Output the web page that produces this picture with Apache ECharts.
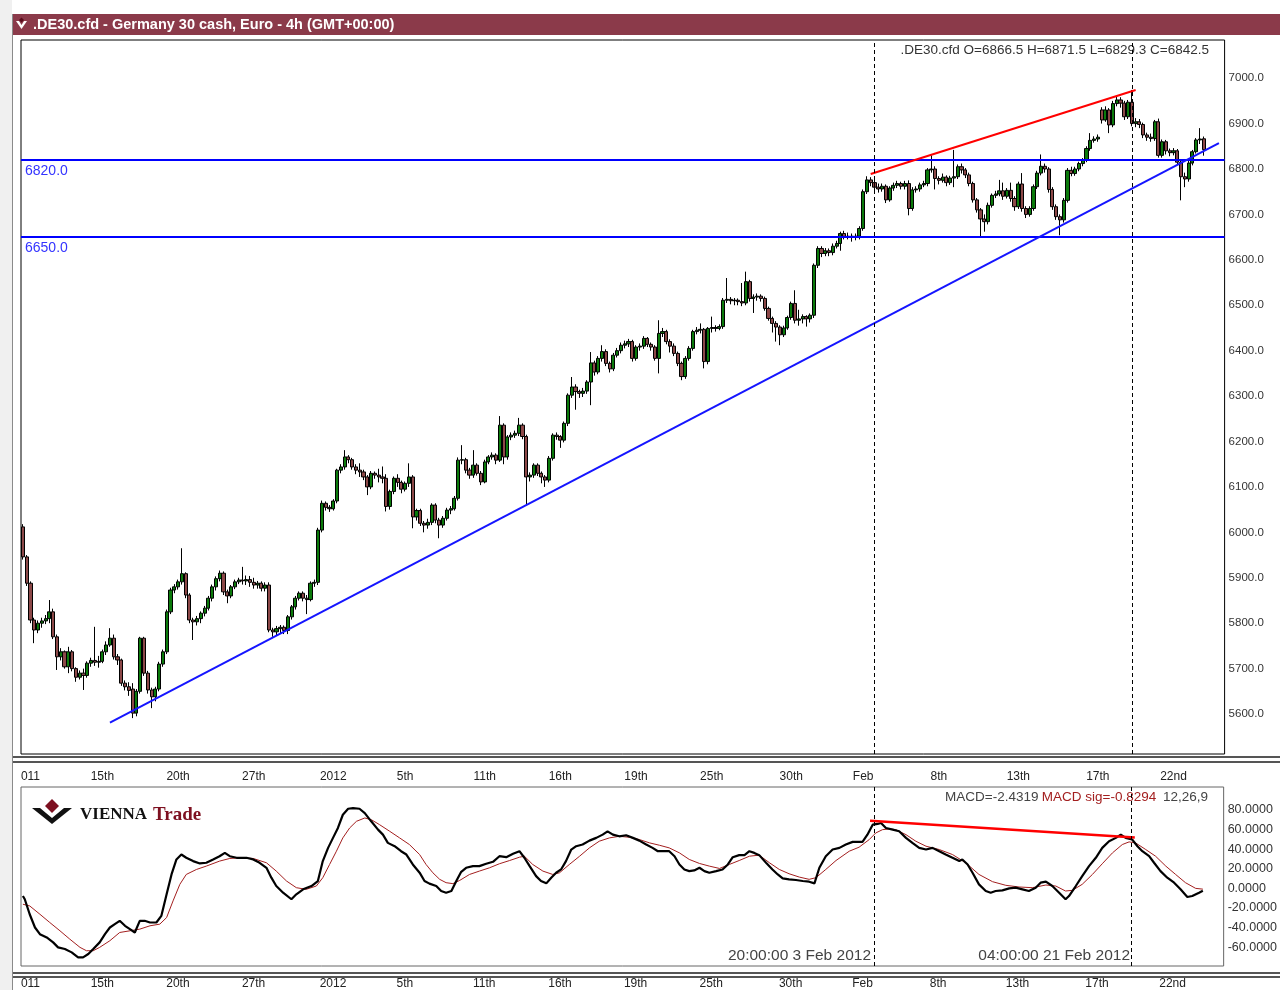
<!DOCTYPE html>
<html>
<head>
<meta charset="utf-8">
<title>.DE30.cfd - Germany 30 cash, Euro - 4h</title>
<script src="https://cdn.jsdelivr.net/npm/echarts@6/dist/echarts.min.js"></script>
<style>
  html, body { margin: 0; padding: 0; background: #fff; }
  #chart { width: 1280px; height: 990px; }
</style>
</head>
<body>
<div id="chart"></div>
<script>
// 4h candles: [open, close, low, high]
const bars = [
  [6012,5946,5940,6018],[5946,5888,5882,5950],[5888,5807,5800,5892],[5807,5785,5756,5812],[5785,5800,5778,5806],[5800,5805,5790,5812],[5805,5810,5798,5818],[5810,5825,5800,5851],[5825,5770,5765,5832],[5770,5726,5697,5775],
  [5726,5737,5718,5745],[5737,5704,5700,5740],[5704,5737,5690,5748],[5737,5700,5694,5741],[5700,5681,5671,5703],[5681,5690,5676,5696],[5690,5685,5653,5700],[5685,5712,5680,5716],[5712,5718,5704,5724],[5718,5714,5706,5792],
  [5714,5716,5702,5728],[5716,5737,5712,5742],[5737,5752,5730,5760],[5752,5767,5748,5789],[5767,5726,5720,5775],[5726,5719,5708,5732],[5719,5668,5662,5722],[5668,5660,5652,5674],[5660,5652,5640,5670],[5655,5602,5591,5668],
  [5602,5650,5595,5655],[5650,5767,5645,5770],[5767,5690,5684,5770],[5690,5653,5645,5695],[5653,5638,5613,5658],[5638,5655,5628,5660],[5655,5710,5650,5715],[5710,5737,5704,5742],[5737,5825,5732,5830],[5825,5873,5820,5878],
  [5873,5880,5866,5886],[5880,5891,5874,5896],[5891,5909,5885,5965],[5909,5862,5855,5912],[5862,5807,5800,5866],[5807,5803,5763,5812],[5803,5810,5795,5816],[5810,5822,5800,5826],[5822,5833,5815,5838],[5833,5855,5828,5860],
  [5855,5880,5848,5885],[5880,5898,5872,5903],[5898,5910,5892,5916],[5910,5869,5862,5914],[5869,5860,5844,5874],[5860,5880,5855,5884],[5880,5891,5875,5896],[5891,5895,5886,5900],[5895,5893,5885,5924],[5893,5896,5884,5905],
  [5896,5890,5880,5904],[5890,5884,5876,5900],[5884,5888,5876,5893],[5888,5877,5870,5892],[5877,5884,5870,5890],[5884,5785,5780,5890],[5785,5781,5770,5790],[5781,5788,5772,5794],[5788,5791,5778,5796],[5791,5784,5776,5795],
  [5784,5814,5776,5818],[5814,5836,5808,5840],[5836,5855,5830,5860],[5855,5866,5850,5870],[5866,5855,5848,5870],[5855,5852,5820,5862],[5852,5888,5848,5892],[5888,5890,5880,5896],[5890,6005,5884,6010],[6005,6064,6000,6070],
  [6064,6055,6048,6068],[6055,6052,6045,6060],[6052,6069,6048,6073],[6069,6137,6064,6140],[6137,6144,6130,6150],[6144,6166,6138,6181],[6166,6160,6152,6170],[6160,6144,6138,6164],[6144,6137,6128,6150],[6137,6133,6122,6152],
  [6133,6122,6115,6138],[6122,6100,6082,6126],[6100,6130,6095,6135],[6130,6126,6118,6134],[6126,6122,6110,6140],[6122,6119,6108,6145],[6119,6057,6046,6128],[6057,6090,6050,6094],[6090,6119,6084,6123],[6119,6110,6100,6128],
  [6110,6095,6086,6114],[6095,6108,6090,6112],[6108,6122,6100,6152],[6122,6034,6009,6126],[6034,6048,6026,6052],[6048,6020,6014,6052],[6020,6016,6000,6025],[6016,6022,6008,6030],[6022,6060,6016,6064],[6060,6027,6020,6064],
  [6027,6016,5987,6032],[6016,6031,6010,6036],[6031,6049,6026,6054],[6049,6052,6040,6058],[6052,6075,6048,6080],[6075,6159,6070,6165],[6159,6160,6150,6192],[6160,6137,6130,6164],[6137,6126,6118,6142],[6126,6148,6120,6181],
  [6148,6130,6125,6152],[6130,6111,6104,6135],[6111,6155,6108,6160],[6155,6166,6150,6170],[6166,6170,6160,6176],[6170,6159,6150,6174],[6159,6236,6155,6256],[6236,6166,6150,6240],[6166,6210,6160,6214],[6210,6214,6203,6220],
  [6214,6218,6208,6224],[6218,6236,6212,6252],[6236,6211,6205,6240],[6211,6122,6060,6215],[6122,6126,6112,6132],[6126,6148,6120,6152],[6148,6130,6124,6152],[6130,6122,6108,6134],[6122,6115,6100,6126],[6115,6163,6110,6168],
  [6163,6214,6158,6218],[6214,6211,6204,6220],[6211,6203,6186,6214],[6203,6240,6198,6244],[6240,6302,6234,6306],[6302,6320,6296,6342],[6320,6310,6270,6326],[6310,6306,6296,6314],[6306,6311,6298,6318],[6311,6331,6305,6335],
  [6331,6373,6280,6397],[6373,6353,6345,6378],[6353,6383,6348,6388],[6383,6398,6376,6412],[6398,6372,6366,6403],[6372,6360,6352,6376],[6360,6390,6355,6395],[6390,6400,6385,6406],[6400,6412,6394,6418],[6412,6415,6405,6422],
  [6415,6420,6408,6426],[6420,6383,6376,6424],[6383,6408,6378,6412],[6408,6410,6400,6416],[6410,6427,6404,6432],[6427,6414,6408,6430],[6414,6408,6400,6418],[6408,6383,6378,6412],[6383,6438,6350,6467],[6438,6442,6430,6450],
  [6442,6420,6414,6446],[6420,6410,6396,6425],[6410,6394,6388,6416],[6394,6372,6366,6398],[6372,6343,6335,6376],[6343,6383,6338,6388],[6383,6405,6378,6410],[6405,6442,6400,6446],[6442,6445,6436,6452],[6445,6447,6438,6460],
  [6447,6376,6361,6450],[6376,6449,6370,6452],[6449,6451,6440,6475],[6451,6449,6442,6456],[6449,6453,6445,6458],[6453,6511,6448,6516],[6511,6513,6505,6560],[6513,6510,6502,6518],[6510,6511,6500,6516],[6511,6508,6500,6515],
  [6508,6505,6498,6549],[6505,6552,6500,6574],[6552,6515,6508,6556],[6515,6518,6483,6524],[6518,6520,6510,6526],[6520,6515,6508,6524],[6515,6493,6488,6519],[6493,6471,6466,6497],[6471,6460,6440,6475],[6460,6452,6420,6465],
  [6452,6435,6412,6456],[6435,6450,6430,6455],[6450,6473,6446,6477],[6473,6504,6468,6508],[6504,6467,6460,6533],[6467,6470,6455,6490],[6470,6475,6460,6480],[6475,6470,6453,6478],[6470,6478,6462,6482],[6478,6588,6472,6592],
  [6588,6625,6582,6630],[6625,6614,6606,6630],[6614,6620,6608,6626],[6620,6616,6608,6625],[6616,6630,6610,6636],[6630,6636,6625,6642],[6636,6658,6620,6662],[6658,6651,6645,6664],[6651,6652,6645,6660],[6652,6650,6640,6658],
  [6650,6652,6643,6658],[6652,6669,6645,6674],[6669,6750,6664,6755],[6750,6776,6745,6784],[6776,6770,6762,6782],[6770,6760,6752,6778],[6760,6756,6748,6768],[6756,6762,6750,6768],[6762,6732,6725,6766],[6732,6758,6728,6762],
  [6758,6764,6752,6770],[6764,6768,6758,6774],[6768,6762,6755,6772],[6762,6768,6755,6774],[6768,6713,6698,6775],[6713,6754,6708,6760],[6754,6756,6748,6762],[6756,6765,6750,6770],[6765,6768,6760,6774],[6768,6798,6762,6802],
  [6798,6800,6792,6830],[6800,6779,6755,6806],[6779,6775,6766,6784],[6775,6782,6770,6790],[6782,6770,6762,6786],[6770,6780,6765,6785],[6780,6783,6760,6842],[6783,6805,6778,6810],[6805,6798,6790,6812],[6798,6787,6780,6802],
  [6787,6768,6762,6792],[6768,6732,6726,6772],[6732,6710,6704,6736],[6710,6690,6651,6714],[6690,6684,6662,6700],[6684,6720,6678,6726],[6720,6742,6715,6746],[6742,6745,6736,6752],[6745,6752,6740,6776],[6752,6740,6732,6770],
  [6740,6753,6735,6758],[6753,6735,6728,6770],[6735,6717,6708,6740],[6717,6767,6712,6772],[6767,6713,6706,6791],[6713,6700,6692,6718],[6700,6713,6695,6718],[6713,6761,6708,6766],[6761,6791,6756,6796],[6791,6806,6786,6832],
  [6806,6800,6792,6812],[6800,6755,6748,6804],[6755,6717,6710,6760],[6717,6695,6688,6722],[6695,6688,6654,6700],[6688,6731,6682,6736],[6731,6797,6726,6802],[6797,6790,6784,6805],[6790,6800,6785,6805],[6800,6812,6795,6816],
  [6812,6820,6806,6824],[6820,6845,6815,6850],[6845,6863,6840,6879],[6863,6866,6858,6872],[6866,6870,6860,6876],[6930,6908,6900,6936],[6908,6930,6904,6938],[6930,6897,6879,6934],[6897,6944,6892,6950],[6944,6952,6938,6960],
  [6952,6945,6935,6958],[6945,6915,6908,6950],[6915,6947,6910,6952],[6947,6900,6894,6974],[6900,6904,6892,6912],[6904,6898,6890,6910],[6898,6875,6868,6902],[6875,6870,6862,6880],[6870,6867,6860,6878],[6867,6904,6862,6908],
  [6904,6830,6825,6911],[6830,6860,6825,6865],[6860,6840,6832,6864],[6840,6836,6828,6845],[6836,6840,6830,6846],[6840,6815,6810,6844],[6815,6783,6731,6820],[6783,6778,6760,6792],[6778,6813,6772,6818],[6813,6838,6808,6842],
  [6838,6864,6834,6868],[6864,6866,6855,6890],[6866.5,6842.5,6829.3,6871.5]
];
const emptySlots = 5;   // blank room right of the last candle

// time axis labels: bar index and text
const tickIdx  = [2, 21, 41, 61, 82, 101, 122, 142, 162, 182, 203, 222, 242, 263, 284, 304];
const tickText = ['011', '15th', '20th', '27th', '2012', '5th', '11th', '16th', '19th', '25th', '30th', 'Feb', '8th', '13th', '17th', '22nd'];

const priceTicks = [5600, 5700, 5800, 5900, 6000, 6100, 6200, 6300, 6400, 6500, 6600, 6700, 6800, 6900, 7000];
const macdTicks = [-60, -40, -20, 0, 20, 40, 60, 80];

// MACD (12,26,9): [bar index, value]
const macdLine = [
  [0,-7.8],[0.5,-11.1],[1.8,-26.4],[3.2,-39.9],[4.5,-46.7],[6.3,-50.1],[8,-55.1],[9.3,-60.2],[11.1,-61.9],[12.9,-65.3],
  [14.6,-70.4],[15.9,-70.4],[17.3,-67],[18.6,-61.9],[20.3,-55.1],[21.7,-46.7],[23,-39.9],[24.3,-36.5],[25.6,-33.1],[27,-38.2],
  [28.3,-41.6],[29.6,-45],[30.9,-33.1],[32.2,-33.1],[33.6,-34.8],[35.3,-34.8],[36.6,-28.1],[38,-6.1],[39.3,14.2],[40.6,29.5],
  [41.9,34.5],[43.2,31.2],[45,27.8],[46.8,25.4],[48.5,26.1],[50.3,29.5],[52,32.8],[53.4,36.2],[54.7,32.8],[56.5,31.2],
  [59.1,31.2],[60.9,29.5],[62.6,26.1],[64.4,21],[65.7,10.9],[67,2.4],[68.8,-4.4],[71,-11.1],[72.3,-6.1],[74.1,-1],
  [76.3,2.4],[78,7.5],[79.3,27.8],[80.7,41.3],[82,51.5],[83.3,61.6],[84.6,75.1],[86,81.2],[87.3,81.9],[89,81.2],
  [90.4,76.8],[92.1,68.4],[93.9,59.9],[95.2,54.8],[96.5,46.4],[98.3,43],[100,37.9],[101.4,34.5],[103.1,24.4],[104.9,16],
  [106.2,7.5],[107.5,4.8],[109.3,2.4],[110.6,-2.7],[111.9,-4.4],[113.3,-2.7],[114.6,7.5],[115.9,16.9],[117.2,21],[119,22.7],
  [120.7,22.7],[122.5,25.1],[124.3,27.1],[126,32.8],[127.8,31.8],[129.6,35.2],[131.3,37.9],[132.6,31.2],[134,22.7],[135.7,12.5],
  [137,7.5],[138.4,5.1],[139.7,10.9],[141,15.9],[142.3,19.3],[143.6,27.8],[145,39.6],[146.3,43],[148,44.7],[149.8,48.7],
  [151.6,51.5],[153.3,54.8],[154.6,58.2],[156,54.8],[157.7,53.1],[159.5,54.2],[161.3,51.5],[163,48.7],[164.8,44.7],[166.5,41.3],
  [167.9,37.9],[169.2,37.9],[170.9,37.9],[172.3,32.8],[173.6,24.4],[174.9,19.3],[176.2,17.6],[177.5,18.3],[178.9,21],[180.2,17.6],
  [181.5,15.9],[183.3,17.6],[185,19.3],[186.4,24.4],[187.7,31.8],[189.4,33.9],[190.8,33.9],[192.1,37.9],[193.4,36.2],[194.7,33.9],
  [196.5,26.1],[198.2,19.3],[199.6,14.2],[200.9,10.2],[202.6,9.2],[204.4,8.5],[206.2,7.5],[207.9,6.8],[209.3,5.1],[210.6,21],
  [212.3,32.8],[214.1,39.6],[215.9,41.3],[217.6,44.7],[219.4,47.4],[222,47.4],[223.3,54.8],[224.7,65],[226,65.7],[226.9,66.7],
  [228.2,61.6],[230,59.9],[231.7,58.2],[233.5,51.5],[235.2,46.4],[237,41.3],[238.8,39.6],[240.5,41.3],[242.3,37.9],[244,34.5],
  [245.8,31.2],[247.6,27.8],[248.4,29.5],[249.8,24.4],[251.1,15.9],[252.8,4.1],[254.6,-2.7],[255.9,-4.4],[257.2,-2.7],[259,-2],
  [260.8,0],[262.5,0.7],[264.3,-1],[266,-2.7],[267.8,0.7],[269.1,5.8],[270.5,6.8],[272.2,2.4],[274,-4.4],[275.7,-11.1],
  [276.6,-7.8],[278.4,2.4],[280.1,12.5],[281.9,22.7],[283.7,31.2],[285.4,41.3],[287.2,48.1],[289,51.5],[290.3,54.8],[291.6,51.5],
  [293.3,49.8],[294.7,43],[296,37.9],[297.8,32.8],[299.1,26.1],[300.8,17.6],[302.6,10.9],[304.4,5.8],[306.1,-1],[307.9,-8.8],
  [309.2,-7.8],[311,-4.4],[312,-2.4]
];
const signalLine = [
  [0,-16.2],[1.8,-17.9],[4.5,-26.4],[7.1,-34.8],[9.8,-43.3],[12.4,-51.8],[15.1,-60.2],[16.8,-63.6],[18.6,-63.6],[20.3,-60.2],
  [23,-53.4],[25.6,-45],[28.3,-43.3],[30.9,-41.6],[33.6,-38.2],[36.2,-36.5],[38,-29.8],[39.7,-12.8],[41.5,4.1],[43.2,14.2],
  [45.9,19.3],[48.5,22.7],[52,27.8],[54.7,30.5],[57.3,31.2],[60.9,30.5],[64.4,26.1],[67,17.6],[69.7,7.5],[72.3,0.7],
  [74.9,-1],[77.6,2.4],[79.3,10.9],[81.1,24.4],[82.9,37.9],[84.6,51.5],[86.4,61.6],[88.2,68.4],[90.4,71.8],[92.1,70.1],
  [94.3,65],[97,58.2],[99.6,51.5],[102.2,44.7],[104.9,34.5],[106.6,24.4],[108.4,15.9],[110.2,9.2],[111.9,5.8],[113.7,4.8],
  [115.5,8.1],[118.1,14.2],[120.7,17.6],[123.4,21],[126,25.1],[128.7,28.4],[131.3,31.8],[132.6,32.8],[134.8,24.4],[137.5,17.6],
  [140.1,14.2],[141.9,15.9],[144.5,24.4],[147.2,32.8],[149.8,41.3],[152.4,48.1],[155.1,51.5],[157.7,53.1],[160.4,52.1],[163,49.8],
  [165.7,46.4],[168.3,44],[170.9,41.3],[173.6,36.2],[176.2,29.5],[178.9,25.4],[181.5,22.7],[184.2,20.3],[186.8,24.4],[189.4,28.4],
  [192.1,32.8],[194.7,33.9],[197.4,26.1],[200,19.3],[202.6,14.9],[205.3,11.5],[207.9,9.2],[209.7,10.9],[212.3,19.3],[215,28.4],
  [218.5,37.9],[221.1,42],[223.8,49.8],[225.5,56.5],[227.3,59.9],[229.1,60.6],[230.8,59.9],[233.5,54.8],[236.1,48.1],[238.8,43],
  [242.3,39.6],[245.8,34.5],[249.3,26.1],[252.8,14.2],[256.4,6.8],[259.9,3.1],[263.4,1.4],[266.9,0.7],[270.5,3.4],[273.1,2.4],
  [275.7,-2.7],[277.5,-2],[280.1,4.1],[282.8,14.2],[285.4,25.1],[288.1,36.2],[290.7,44.7],[292.5,47.4],[294.2,46.4],[296.9,39.6],
  [299.5,32.8],[302.2,22.7],[304.8,14.2],[307.4,5.8],[310.1,0],[312,-0.8]
];

// drawn annotations
const levels = [6820, 6650];
const lastPrice = 6842.5;
const markedBars = [225, 293];                 // 20:00 3 Feb, 04:00 21 Feb
const markedTimes = ['20:00:00 3 Feb 2012', '04:00:00 21 Feb 2012'];
const supportLine = [[23, 5581], [316, 6857]];
const priceHighLine = [[224, 6789], [294, 6974]];
const macdHighLine = [[224, 69], [294, 52]];

const categories = Array.from({ length: bars.length + emptySlots }, (_, i) => String(i));

const FONT = '"Liberation Sans", Arial, sans-serif';
const plotLeft = 21, plotWidth = 1203.6;

const chart = echarts.init(document.getElementById('chart'));

const dashed = { type: [4, 3], color: '#000', width: 1 };

const option = {
  animation: false,
  backgroundColor: '#ffffff',
  textStyle: { fontFamily: FONT },
  grid: [
    { left: plotLeft, top: 40, width: plotWidth, height: 714, show: true, borderColor: '#000', borderWidth: 1 },
    { left: plotLeft, top: 787, width: plotWidth, height: 180, show: true, borderColor: '#666', borderWidth: 1 }
  ],
  xAxis: [
    {
      type: 'category', gridIndex: 0, data: categories, boundaryGap: true,
      axisLine: { show: false }, axisTick: { show: false }, splitLine: { show: false },
      axisLabel: {
        interval: (i) => tickIdx.includes(i),
        formatter: (v, i) => tickText[tickIdx.indexOf(i)],
        margin: 17, fontSize: 12, color: '#222', fontFamily: FONT
      }
    },
    {
      type: 'value', gridIndex: 1, min: -0.5, max: categories.length - 0.5,
      axisLine: { show: false }, axisTick: { show: false }, splitLine: { show: false },
      axisLabel: {
        customValues: tickIdx,
        formatter: (v) => tickText[tickIdx.indexOf(v)] || '',
        margin: 12, fontSize: 12, color: '#222', fontFamily: FONT
      }
    }
  ],
  yAxis: [
    {
      type: 'value', gridIndex: 0, position: 'right', min: 5512, max: 7084,
      axisLine: { show: false }, axisTick: { show: false }, splitLine: { show: false },
      axisLabel: { customValues: priceTicks, formatter: (v) => v.toFixed(1), margin: 4, fontSize: 11.5, color: '#333', fontFamily: FONT }
    },
    {
      type: 'value', gridIndex: 1, position: 'right', min: -79.2, max: 103.4,
      axisLine: { show: false }, axisTick: { show: false }, splitLine: { show: false },
      axisLabel: { customValues: macdTicks, formatter: (v) => v.toFixed(4), margin: 4, fontSize: 12.5, color: '#333', fontFamily: FONT }
    }
  ],
  series: [
    {
      name: '.DE30.cfd',
      type: 'candlestick',
      xAxisIndex: 0, yAxisIndex: 0,
      data: bars,
      barWidth: 3.6,
      itemStyle: {
        color: '#0b7a0b', color0: '#8c4848',
        borderColor: '#000', borderColor0: '#000', borderWidth: 1
      },
      markLine: {
        silent: true, symbol: ['none', 'none'], animation: false,
        data: [
          ...levels.map((lv) => ({
            yAxis: lv,
            lineStyle: { color: '#0000ff', width: 2, type: 'solid' },
            label: {
              show: true, position: 'insideStartBottom', distance: [4, 4],
              formatter: (p) => p.value.toFixed(1), color: '#3333ff', fontSize: 14, fontFamily: FONT
            }
          })),
          {
            yAxis: lastPrice,
            lineStyle: { opacity: 0 },
            label: {
              show: true, position: 'end', distance: 1, formatter: lastPrice.toFixed(1),
              backgroundColor: '#c8c8c8', padding: [2, 3, 1, 3], color: '#000', fontSize: 11.5, fontFamily: FONT
            }
          },
          [
            { coord: supportLine[0], lineStyle: { color: '#1515ff', width: 2, type: 'solid' }, label: { show: false } },
            { coord: supportLine[1] }
          ],
          [
            { coord: priceHighLine[0], lineStyle: { color: '#ff0000', width: 2, type: 'solid' }, label: { show: false } },
            { coord: priceHighLine[1] }
          ],
          ...markedBars.map((b) => ({ xAxis: b, lineStyle: dashed, label: { show: false } }))
        ]
      }
    },
    {
      name: 'MACD',
      type: 'line',
      xAxisIndex: 1, yAxisIndex: 1,
      data: macdLine,
      symbol: 'none',
      lineStyle: { color: '#000', width: 2.2 },
      z: 3,
      markLine: {
        silent: true, symbol: ['none', 'none'], animation: false,
        data: [
          [
            { coord: macdHighLine[0], lineStyle: { color: '#ff0000', width: 2.5, type: 'solid' }, label: { show: false } },
            { coord: macdHighLine[1] }
          ],
          ...markedBars.map((b) => ({ xAxis: b, lineStyle: dashed, label: { show: false } }))
        ]
      }
    },
    {
      name: 'MACD sig',
      type: 'line',
      xAxisIndex: 1, yAxisIndex: 1,
      data: signalLine,
      symbol: 'none',
      lineStyle: { color: '#a31f1f', width: 1 },
      z: 2
    }
  ],
  graphic: [
    // window chrome
    { type: 'rect', shape: { x: 0, y: 0, width: 12, height: 990 }, style: { fill: '#f0f0f0' }, silent: true },
    { type: 'line', shape: { x1: 12.5, y1: 14, x2: 12.5, y2: 990 }, style: { stroke: '#8a8a8a', lineWidth: 1 }, silent: true },
    { type: 'rect', shape: { x: 13, y: 14, width: 1267, height: 21 }, style: { fill: '#8b3a4a' }, silent: true },
    { type: 'polygon', shape: { points: [[16, 21], [19, 21], [21.5, 25], [24, 21], [27, 21], [21.5, 29]] }, style: { fill: '#ffffff' }, silent: true },
    { type: 'polygon', shape: { points: [[21.5, 17.5], [24, 20], [21.5, 22.5], [19, 20]] }, style: { fill: '#5a0d1c' }, silent: true },
    {
      type: 'text', x: 33, y: 25, silent: true,
      style: { text: '.DE30.cfd - Germany 30 cash, Euro - 4h (GMT+00:00)', fill: '#ffffff', font: 'bold 14.5px ' + FONT, textVerticalAlign: 'middle' }
    },
    // pane separators
    { type: 'line', shape: { x1: 13, y1: 757, x2: 1280, y2: 757 }, style: { stroke: '#555', lineWidth: 2 }, silent: true },
    { type: 'line', shape: { x1: 13, y1: 762, x2: 1280, y2: 762 }, style: { stroke: '#555', lineWidth: 2 }, silent: true },
    { type: 'line', shape: { x1: 13, y1: 973, x2: 1280, y2: 973 }, style: { stroke: '#555', lineWidth: 2 }, silent: true },
    { type: 'line', shape: { x1: 13, y1: 977, x2: 1280, y2: 977 }, style: { stroke: '#555', lineWidth: 2 }, silent: true },
    // price readout
    {
      type: 'text', x: 1209, y: 50, silent: true,
      style: { text: '.DE30.cfd O=6866.5 H=6871.5 L=6829.3 C=6842.5', fill: '#333', font: '13.5px ' + FONT, textAlign: 'right', textVerticalAlign: 'middle' }
    },
    // indicator readout
    {
      type: 'text', x: 1208, y: 797, silent: true,
      style: {
        text: '{a|MACD=-2.4319} {b|MACD sig=-0.8294}  {a|12,26,9}',
        textAlign: 'right', textVerticalAlign: 'middle',
        rich: {
          a: { fill: '#444', font: '13.5px ' + FONT },
          b: { fill: '#a31f1f', font: '13.5px ' + FONT }
        }
      }
    },
    ...markedTimes.map((t, k) => ({
      type: 'text', x: k === 0 ? 871 : 1130, y: 956, silent: true,
      style: { text: t, fill: '#444', font: '15.5px ' + FONT, textAlign: 'right', textVerticalAlign: 'middle' }
    })),
    // VIENNA Trade logo
    { type: 'polygon', shape: { points: [[32, 808], [40, 808], [52, 818], [64, 808], [72, 808], [52, 824]] }, style: { fill: '#111' }, silent: true },
    { type: 'polygon', shape: { points: [[52, 799], [59, 806], [52, 813], [45, 806]] }, style: { fill: '#7d1020' }, silent: true },
    {
      type: 'text', x: 80, y: 815, silent: true,
      style: { text: 'VIENNA', fill: '#111', font: 'bold 17px "Liberation Serif", serif', textVerticalAlign: 'middle' }
    },
    {
      type: 'text', x: 153, y: 815, silent: true,
      style: { text: 'Trade', fill: '#7d1020', font: 'bold 19px "Liberation Serif", serif', textVerticalAlign: 'middle' }
    }
  ]
};

chart.setOption(option);
</script>
</body>
</html>
